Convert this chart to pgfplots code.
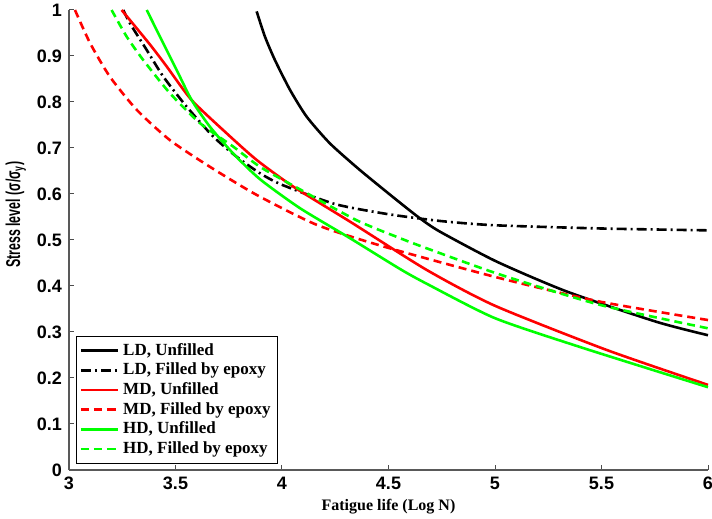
\documentclass[border=0pt]{standalone}
\usepackage{fontspec}
\setmainfont{Liberation Serif}
\setsansfont{Liberation Sans}
\usepackage{pgfplots}
\pgfplotsset{compat=1.18}
\begin{document}
\begin{tikzpicture}
\begin{axis}[
  name=ax,
  scale only axis,
  width=319.5pt, height=230pt,
  xmin=3, xmax=6, ymin=0, ymax=1,
  axis x line*=bottom, axis y line*=left,
  axis line style={black!65, line width=0.6pt},
  tick align=inside, major tick length=2.5pt,
  tick style={black!70, line width=0.5pt},
  xtick={3,3.5,...,6}, ytick={0,0.1,...,1},
  ticklabel style={font=\sffamily\bfseries\fontsize{9}{10}\selectfont, /pgf/number format/assume math mode=true},
  yticklabel style={/pgf/number format/fixed, /pgf/number format/precision=1},
  xticklabel style={/pgf/number format/fixed, /pgf/number format/precision=1},
  xlabel={Fatigue life (Log N)},
  xlabel style={font=\bfseries\fontsize{8}{9}\selectfont, at={(rel axis cs:0.5,0)}, anchor=north, yshift=-11pt},
  ylabel={\scalebox{0.62}[1]{Stress level (σ/σ\textsubscript{y})}},
  ylabel style={font=\sffamily\bfseries\fontsize{10}{11}\selectfont, at={(rel axis cs:0,0.555)}, anchor=south, xshift=0pt, yshift=18pt},
  legend cell align=left,
  legend style={at={(rel axis cs:0.011,0.013)}, anchor=south west, draw=black, line width=0.6pt, fill=white,
    font=\bfseries\fontsize{8.5}{9}\selectfont, row sep=-1.6pt, inner sep=1.5pt},
  legend image code/.code={\draw[#1] plot coordinates {(0pt,0pt) (18.5pt,0pt)};},
  every axis plot/.append style={line width=1.3pt, smooth, tension=0.4},
  clip=false,
]
\addplot[black] coordinates {(3.881,0.997) (3.920,0.942) (3.967,0.891) (4.038,0.826) (4.116,0.768) (4.225,0.710) (4.366,0.652) (4.538,0.587) (4.648,0.547) (4.742,0.518) (5.008,0.453) (5.337,0.388) (5.759,0.322) (6.0,0.293)};
\addlegendentry{LD, Unfilled}
\addplot[black, dash pattern=on 5pt off 2pt on 1pt off 2pt] coordinates {(3.255,1.0) (3.286,0.971) (3.365,0.913) (3.443,0.855) (3.552,0.790) (3.677,0.725) (3.787,0.681) (3.897,0.645) (4.0,0.62) (4.25,0.578) (4.5,0.556) (4.75,0.541) (5.0,0.532) (5.5,0.525) (6.0,0.521)};
\addlegendentry{LD, Filled by epoxy}
\addplot[red] coordinates {(3.247,1.0) (3.380,0.925) (3.459,0.877) (3.576,0.804) (3.740,0.732) (3.881,0.674) (4.053,0.616) (4.319,0.540) (4.679,0.435) (5.0,0.357) (5.524,0.261) (6.0,0.185)};
\addlegendentry{MD, Unfilled}
\addplot[red, dash pattern=on 4pt off 2.5pt] coordinates {(3.028,1.0) (3.099,0.928) (3.192,0.855) (3.318,0.783) (3.474,0.717) (3.662,0.659) (3.881,0.598) (4.163,0.533) (4.476,0.486) (5.023,0.417) (5.493,0.366) (6.0,0.326)};
\addlegendentry{MD, Filled by epoxy}
\addplot[green] coordinates {(3.365,1.0) (3.427,0.942) (3.505,0.870) (3.576,0.804) (3.662,0.746) (3.771,0.688) (3.897,0.632) (4.085,0.569) (4.319,0.504) (4.554,0.437) (4.679,0.405) (5.0,0.33) (5.415,0.265) (6.0,0.18)};
\addlegendentry{HD, Unfilled}
\addplot[green, dash pattern=on 4pt off 2.5pt] coordinates {(3.2,1.0) (3.271,0.942) (3.349,0.891) (3.474,0.819) (3.615,0.754) (3.771,0.703) (3.897,0.659) (4.069,0.614) (4.35,0.543) (4.554,0.504) (4.679,0.482) (5.023,0.425) (5.493,0.359) (6.0,0.308)};
\addlegendentry{HD, Filled by epoxy}
\end{axis}
\pgfresetboundingbox
\path ([shift={(-34.5pt,-24.5pt)}]ax.south west) rectangle ([shift={(2pt,5pt)}]ax.north east);
\end{tikzpicture}
\end{document}
